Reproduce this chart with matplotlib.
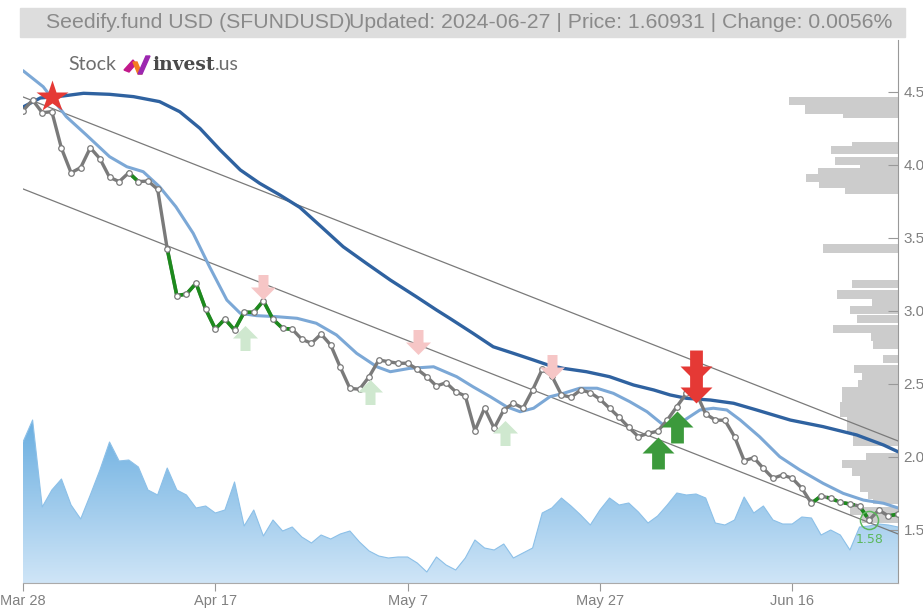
import numpy as np
import matplotlib
matplotlib.use("Agg")
import matplotlib.pyplot as plt
import matplotlib.dates as mdates
from matplotlib.path import Path
from matplotlib.patches import Rectangle, Polygon
from matplotlib.colors import LinearSegmentedColormap
import datetime as dt

# ---------------- data ----------------
start_date = dt.datetime(2024, 3, 28)
n_days = 92

price = [4.372, 4.445, 4.358, 4.365, 4.114, 3.947, 3.982, 4.118, 4.043, 3.916,
         3.886, 3.947, 3.886, 3.890, 3.834, 3.425, 3.105, 3.116, 3.190, 3.012,
         2.877, 2.945, 2.870, 2.991, 2.991, 3.070, 2.943, 2.881, 2.875, 2.806,
         2.779, 2.842, 2.767, 2.614, 2.470, 2.464, 2.550, 2.664, 2.653, 2.642,
         2.642, 2.601, 2.550, 2.486, 2.509, 2.447, 2.418, 2.180, 2.334, 2.197,
         2.322, 2.368, 2.334, 2.459, 2.601, 2.555, 2.425, 2.409, 2.459, 2.441,
         2.396, 2.334, 2.272, 2.203, 2.139, 2.162, 2.176, 2.253, 2.345, 2.436,
         2.440, 2.295, 2.253, 2.251, 2.139, 1.975, 1.995, 1.922, 1.854, 1.877,
         1.854, 1.786, 1.683, 1.733, 1.717, 1.690, 1.678, 1.664, 1.568, 1.637,
         1.596, 1.609]

volume = [141, 163, 76, 93, 104, 78, 64, 88, 113, 141,
          122, 123, 116, 93, 88, 115, 93, 88, 75, 77,
          70, 73, 101, 57, 73, 47, 63, 52, 56, 46,
          40, 48, 44, 49, 52, 41, 32, 27, 25, 26,
          26, 20, 11, 26, 18, 13, 25, 43, 35, 33,
          39, 25, 30, 35, 70, 75, 85, 77, 68, 58,
          73, 85, 78, 80, 71, 60, 67, 78, 90, 88,
          89, 85, 60, 58, 63, 86, 70, 77, 63, 59,
          59, 66, 65, 48, 53, 48, 33, 56, 57, 59,
          58, 56]

ma_fast_days = [0, 2.1, 4.5, 6.6, 9.0, 10.8, 12.5, 14.2, 15.9, 17.7, 19.4, 21.2,
                22.6, 24.3, 26.4, 28.5, 30.5, 32.6, 34.7, 36.8, 38.2, 40.2, 42.7,
                45.1, 46.8, 48.6, 50.3, 51.7, 53.1, 54.8, 56.2, 57.9, 59.7, 61.4,
                63.1, 64.9, 66.6, 68.3, 70.4, 71.8, 73.2, 74.6, 76.6, 78.7, 80.8,
                83.2, 85.3, 87.4, 89.5, 91]
ma_fast_vals = [4.646, 4.536, 4.331, 4.205, 4.057, 3.988, 3.954, 3.851, 3.714, 3.532,
                3.303, 3.075, 2.984, 2.968, 2.961, 2.950, 2.916, 2.836, 2.710, 2.618,
                2.584, 2.607, 2.618, 2.550, 2.481, 2.413, 2.344, 2.310, 2.334, 2.413,
                2.436, 2.471, 2.471, 2.436, 2.379, 2.310, 2.219, 2.231, 2.322, 2.334,
                2.322, 2.253, 2.139, 2.002, 1.911, 1.820, 1.751, 1.705, 1.683, 1.651]

ma_slow_days = [0, 1.8, 4.2, 6.3, 9.0, 11.5, 14.2, 16.3, 18.4, 20.5, 22.6, 24.6,
                26.7, 28.8, 31.2, 33.3, 35.7, 38.2, 40.9, 43.0, 44.4, 46.8, 48.9,
                51.0, 53.1, 54.6, 56.2, 58.6, 61.0, 63.5, 65.6, 67.3, 69.0, 71.5,
                73.9, 76.3, 79.8, 83.2, 86.7, 89.5, 91]
ma_slow_vals = [4.397, 4.459, 4.473, 4.491, 4.484, 4.468, 4.434, 4.365, 4.251, 4.103,
                3.966, 3.875, 3.795, 3.709, 3.566, 3.440, 3.327, 3.212, 3.098, 3.007,
                2.949, 2.847, 2.755, 2.710, 2.664, 2.630, 2.607, 2.584, 2.550, 2.493,
                2.459, 2.425, 2.402, 2.390, 2.368, 2.322, 2.253, 2.208, 2.151, 2.082,
                2.036]

channel_days = [0, 91]
channel_upper = [4.466, 2.110]
channel_lower = [3.836, 1.473]

# volume profile: price level, relative volume
profile_price = [4.438, 4.380, 4.346, 4.130, 4.103, 4.024, 3.986, 3.952, 3.911, 3.870,
                 3.829, 3.428, 3.185, 3.113, 3.062, 3.007, 2.945, 2.877, 2.822, 2.767,
                 2.670, 2.603, 2.548, 2.500, 2.450, 2.400, 2.350, 2.300, 2.250, 2.200,
                 2.150, 2.100, 2.003, 1.952, 1.894, 1.842, 1.788, 1.740, 1.705, 1.630,
                 1.575]
profile_vol = [109, 93, 55, 46, 67, 63, 38, 80, 92, 79,
               53, 75, 46, 61, 26, 48, 41, 65, 27, 25,
               15, 44, 36, 40, 56, 56, 58, 58, 51, 51,
               45, 45, 32, 56, 46, 38, 38, 30, 25, 48,
               36]

buy_strong_days = [66, 68]
buy_strong_price = [2.030, 2.208]
sell_strong_days = [70, 70]
sell_strong_price = [2.623, 2.477]
buy_weak_days = [23.1, 36.1, 50.1]
buy_weak_price = [2.813, 2.447, 2.162]
sell_weak_days = [25.0, 41.1, 55.0]
sell_weak_price = [3.167, 2.790, 2.618]
star_day = [3]
star_price = [4.466]

green_solid = [(11, 12), (15, 28)]
green_dashed = [(82, 88), (90, 91)]
low_label_day = 88
low_label = "1.58"

xtick_labels = ["Mar 28", "Apr 17", "May 7", "May 27", "Jun 16"]
xtick_days = [0, 20, 40, 60, 80]
ytick_vals = [1.5, 2.0, 2.5, 3.0, 3.5, 4.0, 4.5]

title_left = "Seedify.fund USD (SFUNDUSD)"
title_right = "Updated: 2024-06-27 | Price: 1.60931 | Change: 0.0056%"

# ---------------- helpers ----------------
x0 = mdates.date2num(start_date)
def dx(days):
    return x0 + np.asarray(days, dtype=float)

xd = dx(np.arange(n_days))
price = np.array(price)
volume = np.array(volume)

W, H = 923, 610
fig = plt.figure(figsize=(W / 100, H / 100), dpi=100)
L, R, B, T = 23, 898, 583, 40
rect = [L / W, 1 - B / H, (R - L) / W, (B - T) / H]

ylo, yhi = 1.137, 4.856

ax_vol = fig.add_axes(rect, zorder=1)
ax_prof = fig.add_axes(rect, zorder=2)
ax = fig.add_axes(rect, zorder=3)
for a in (ax_vol, ax_prof):
    a.set_axis_off()
ax.patch.set_alpha(0)

# volume area with gradient
ax_vol.set_xlim(dx(0), dx(91))
ax_vol.set_ylim(0, B - T)
poly = ax_vol.fill_between(xd, 0, volume, color="none", lw=0)
cmap = LinearSegmentedColormap.from_list("v", ["#cfe5f7", "#6aaee0"])
grad = np.linspace(0, 1, 256).reshape(-1, 1)
im = ax_vol.imshow(grad, extent=[dx(0), dx(91), 0, volume.max()], origin="lower",
                   aspect="auto", cmap=cmap, zorder=1)
im.set_clip_path(poly.get_paths()[0], transform=ax_vol.transData)
ax_vol.plot(xd, volume, color="#8cc0e8", lw=0.8, zorder=2)

# volume profile
ax_prof.set_xlim(R - L, 0)
ax_prof.set_ylim(ylo, yhi)
ax_prof.barh(profile_price, profile_vol, height=0.055, left=0, color="#cccccc",
             edgecolor="none")

# main
ax.set_xlim(dx(0), dx(91))
ax.set_ylim(ylo, yhi)

ax.plot(dx(channel_days), channel_upper, color="#7a7a7a", lw=0.9, zorder=2)
ax.plot(dx(channel_days), channel_lower, color="#7a7a7a", lw=0.9, zorder=2)
ax.plot(dx(ma_slow_days), ma_slow_vals, color="#2f62a0", lw=2.4, zorder=3,
        solid_capstyle="round")
ax.plot(dx(ma_fast_days), ma_fast_vals, color="#7ca8d6", lw=2.2, zorder=3,
        solid_capstyle="round")

ax.plot(xd, price, color="#7a7a7a", lw=2.4, zorder=4)
for a, b in green_solid:
    ax.plot(xd[a:b + 1], price[a:b + 1], color="#1d8a1d", lw=2.6, zorder=5)
for a, b in green_dashed:
    ax.plot(xd[a:b + 1], price[a:b + 1], color="#1d8a1d", lw=2.6, zorder=5,
            dashes=(3, 2))
ax.plot(xd, price, ls="none", marker="o", ms=4, mfc="white", mec="#7a7a7a",
        mew=0.9, zorder=6)

# arrows
up_arrow = Path([(-0.2, -0.5), (0.2, -0.5), (0.2, 0.0), (0.5, 0.0), (0.0, 0.5),
                 (-0.5, 0.0), (-0.2, 0.0), (-0.2, -0.5)],
                [Path.MOVETO] + [Path.LINETO] * 6 + [Path.CLOSEPOLY])
down_arrow = Path([(-0.2, 0.5), (0.2, 0.5), (0.2, 0.0), (0.5, 0.0), (0.0, -0.5),
                   (-0.5, 0.0), (-0.2, 0.0), (-0.2, 0.5)],
                  [Path.MOVETO] + [Path.LINETO] * 6 + [Path.CLOSEPOLY])
ax.plot(dx(buy_weak_days), buy_weak_price, ls="none", marker=up_arrow, ms=18,
        color="#cfe8cf", mec="none", zorder=7)
ax.plot(dx(sell_weak_days), sell_weak_price, ls="none", marker=down_arrow, ms=18,
        color="#f6c6c6", mec="none", zorder=7)
ax.plot(dx(buy_strong_days), buy_strong_price, ls="none", marker=up_arrow, ms=23,
        color="#3c9a3c", mec="none", zorder=8)
ax.plot(dx(sell_strong_days), sell_strong_price, ls="none", marker=down_arrow, ms=23,
        color="#e53935", mec="none", zorder=8)
ax.plot(dx(star_day), star_price, ls="none", marker="*", ms=24, color="#e53935",
        mec="none", zorder=8)

# low annotation
ax.plot(dx([low_label_day]), [price[low_label_day]], ls="none", marker="o", ms=13,
        mfc="none", mec="#5cb85c", mew=1.1, zorder=8)
ax.annotate(low_label, (dx(low_label_day), price[low_label_day]), xytext=(0, -14),
            textcoords="offset points", ha="center", va="center", color="#5cb85c",
            fontsize=9, zorder=8)

# axes styling
fam = ["Liberation Sans", "DejaVu Sans"]
for s in ("left", "top"):
    ax.spines[s].set_visible(False)
ax.spines["right"].set_color("#999999")
ax.spines["bottom"].set_color("#aaaaaa")
ax.yaxis.tick_right()
ax.set_yticks(ytick_vals)
ax.set_yticklabels([f"{v:.1f}" for v in ytick_vals])
ax.tick_params(axis="y", direction="in", length=7, color="#999999", labelcolor="#808080",
               labelsize=11, pad=4)
ax.set_xticks(dx(xtick_days))
ax.set_xticklabels(xtick_labels)
ax.tick_params(axis="x", direction="out", length=6, color="#999999", labelcolor="#808080",
               labelsize=10.5, pad=2)
for lbl in ax.get_xticklabels() + ax.get_yticklabels():
    lbl.set_family(fam)

# title bar
fig.patches.append(Rectangle((20 / W, 1 - 37 / H), (905 - 20) / W, 29 / H,
                             transform=fig.transFigure, color="#dddddd", zorder=0))
fig.text(46 / W, 1 - 22 / H, title_left, ha="left", va="center", fontsize=15.3,
         color="#8a8a8a", family=fam)
fig.text(892 / W, 1 - 22 / H, title_right, ha="right", va="center", fontsize=15.3,
         color="#8a8a8a", family=fam)

# logo
fig.text(68 / W, 1 - 65 / H, "Stock", ha="left", va="center", fontsize=14,
         color="#6e6e6e", family=["Lato", "DejaVu Sans"])
fig.patches.append(Polygon([(124 / W, 1 - 70 / H), (133 / W, 1 - 60 / H), (136 / W, 1 - 64 / H),
                            (129 / W, 1 - 72 / H)], closed=True, transform=fig.transFigure,
                           color="#c2188b", zorder=5))
fig.patches.append(Polygon([(133 / W, 1 - 62 / H), (138 / W, 1 - 74 / H), (142 / W, 1 - 74 / H),
                            (137 / W, 1 - 62 / H)], closed=True, transform=fig.transFigure,
                           color="#f47b20", zorder=5))
fig.patches.append(Polygon([(138 / W, 1 - 74 / H), (146 / W, 1 - 56 / H), (150 / W, 1 - 56 / H),
                            (142 / W, 1 - 74 / H)], closed=True, transform=fig.transFigure,
                           color="#9c27b0", zorder=5))
t_inv = fig.text(152 / W, 1 - 65 / H, "invest", ha="left", va="center", fontsize=13.5,
                 color="#4a4a4a", fontweight="bold", family=["DejaVu Serif"])
fig.canvas.draw()
bb = t_inv.get_window_extent()
fig.text(bb.x1 / W + 0.5 / W, 1 - 65 / H, ".us", ha="left", va="center", fontsize=14,
         color="#6e6e6e", family=["Lato", "DejaVu Sans"])

fig.savefig("out.png", dpi=100)
